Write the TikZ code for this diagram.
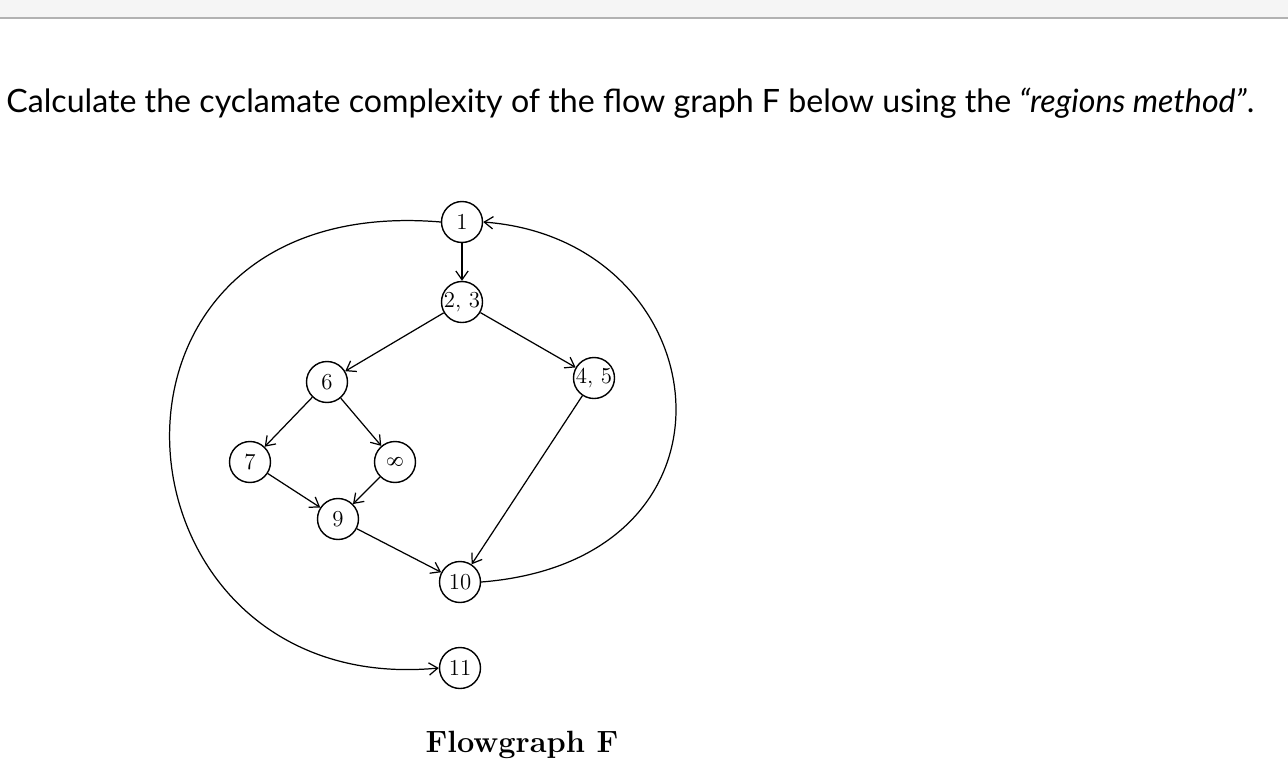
\documentclass[tikz,border=0pt]{standalone}
\usepackage{fontspec}
\setmainfont{Latin Modern Roman}
\newfontfamily\lato{Lato}
\usetikzlibrary{arrows.meta}
\begin{document}
\begin{tikzpicture}[x=0.02cm,y=-0.02cm,
  vtx/.style={draw,circle,minimum size=0.82cm,inner sep=0pt,font=\fontsize{13}{14}\selectfont,line width=0.8pt},
  edge/.style={line width=0.7pt,-{Straight Barb[length=5pt,width=7pt]}}]
\useasboundingbox (0,0) rectangle (1288,778);
\fill[gray!8] (0,0) rectangle (1288,18);
\draw[gray!60,line width=1pt] (0,18) -- (1288,18);
\node[anchor=west,font=\lato\fontsize{18.3}{21}\selectfont,inner sep=0pt] (q) at (6,103) {Calculate the cyclamate complexity of the flow graph F below using the \textit{“regions method”}.};
\node[vtx] (n1) at (462,222) {1};
\node[vtx] (n23) at (462,302) {2, 3};
\node[vtx] (n6) at (327,382) {6};
\node[vtx] (n45) at (594,378) {4, 5};
\node[vtx] (n7) at (250,462) {7};
\node[vtx] (n8) at (395,462) {\rotatebox{90}{8}};
\node[vtx] (n9) at (338,519) {9};
\node[vtx] (n10) at (460,582) {10};
\node[vtx] (n11) at (460,668) {11};
\node[font=\bfseries\fontsize{17.5}{20}\selectfont] (cap) at (522,745) {Flowgraph F};
\draw[edge] (n1) -- (n23);
\draw[edge] (n23) -- (n6);
\draw[edge] (n23) -- (n45);
\draw[edge] (n6) -- (n7);
\draw[edge] (n6) -- (n8);
\draw[edge] (n7) -- (n9);
\draw[edge] (n8) -- (n9);
\draw[edge] (n9) -- (n10);
\draw[edge] (n45) -- (n10);
\draw[edge] (n10.east) .. controls (760,560) and (720,240) .. (n1.east);
\draw[edge] (n1.west) .. controls (60,190) and (100,700) .. (n11.west);
\end{tikzpicture}
\end{document}
